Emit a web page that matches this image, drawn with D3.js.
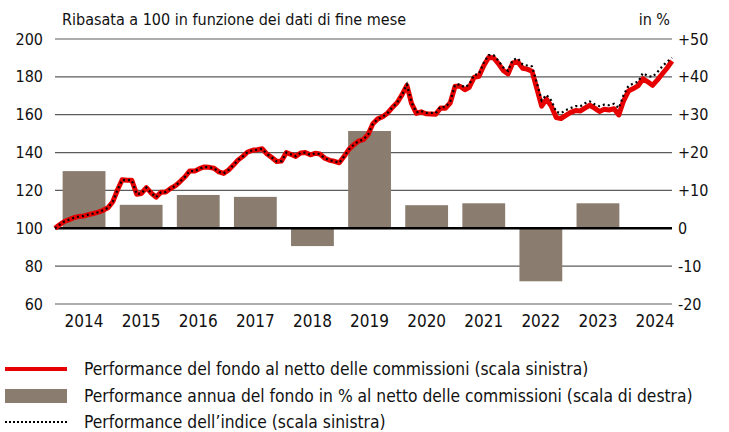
<!DOCTYPE html>
<html>
<head>
<meta charset="utf-8">
<script src="https://cdn.jsdelivr.net/npm/d3@7"></script>
<style>
  body { margin: 0; background: #fff; }
  text { font-family: "DejaVu Sans Condensed", "DejaVu Sans", sans-serif; font-stretch: condensed; fill: #111; }
</style>
</head>
<body>
<div id="container"></div>
<script>
let w = 729;
let h = 432;

// month-end values, Dec 2013 .. Aug 2024, rebased to 100
let fund = [100,102,103.6,104.6,105.6,106.2,106.5,107.2,107.8,108.5,109.5,110.8,
  114,120.5,125.6,125.4,125.4,118,118.4,121.5,118.6,116.4,119,119.2,
  121,122.5,124.7,127.2,130.3,130.2,131.5,132.4,132.2,131.7,129.8,129,
  130.8,133.4,136,138,140.3,141.2,141.5,142,139.2,137.4,135.3,135.5,
  140,139,138,139.8,140,138.8,139.6,139.2,137,135.9,135.4,134.6,
  138,141.8,144,146,146.8,149.5,155.2,157.8,158.9,160.8,163.8,166.3,
  170.5,175.5,166,160.7,161.5,160.5,160.4,160.2,163.6,163.4,166.3,175,
  175,173.2,174.5,179.8,180.3,186,190.2,190.1,187,183.4,181.6,187.4,
  188,184.5,184.1,183,174,164.5,168.3,164.5,158.5,158,159.6,161.2,
  162.2,162,163.5,165,163.5,161.7,162.9,162.5,163.2,159.9,167.5,172.5,
  173.8,175.4,179,177.4,175.5,178.4,181.5,184.7,188.4];

let index = [100,102,103.6,104.6,105.6,106.2,106.5,107.2,107.8,108.5,109.5,110.8,
  114,120.5,125.6,125.4,125.4,118,118.4,121.5,118.6,116.4,119,119.2,
  121,122.5,124.7,127.2,130.3,130.2,131.5,132.4,132.2,131.7,129.8,129,
  130.8,133.4,136,138,140.3,141.2,141.5,142,139.2,137.4,135.3,135.5,
  140,139,138,139.8,140,138.8,139.6,139.2,137,135.9,135.4,134.6,
  138,141.8,144,146,146.8,149.5,155.2,157.8,158.9,160.8,163.8,166.3,
  170.5,176,166.5,161.2,162,161,161,160.8,164.2,164,167,175.8,
  176,174.5,176,181,181.5,187.5,191.5,191.5,188.5,185,183.2,189,
  189.8,186.5,186,185.5,177,167.5,170.5,167.5,161.5,160.8,162.5,163.5,
  164.5,164.5,166,167,165.5,164.5,165.3,165,165.8,163.5,170.5,175.2,
  176.5,177.5,182,180.5,180,182.5,185.5,188,190];

// calendar year returns in %
let barYears = [2014,2015,2016,2017,2018,2019,2020,2021,2022,2023];
let barValues = [15.1,6.2,8.8,8.3,-4.7,25.7,6.1,6.6,-14.0,6.6];

let yearLabels = [2014,2015,2016,2017,2018,2019,2020,2021,2022,2023,2024];
let leftTicks = [60,80,100,120,140,160,180,200];
let rightTicks = [-20,-10,0,10,20,30,40,50];
let rightTickLabels = ["-20","-10","0","+10","+20","+30","+40","+50"];

let legendLabels = [
  "Performance del fondo al netto delle commissioni (scala sinistra)",
  "Performance annua del fondo in % al netto delle commissioni (scala di destra)",
  "Performance dell\u2019indice (scala sinistra)"
];

let red = "#e60000";
let barColor = "#8a7d6f";

let xLeft = 55, xRight = 672, yTop = 39, yBottom = 304;

let svg = d3.select("#container")
  .append("svg")
    .attr("width", w)
    .attr("height", h);

let start = new Date(2014, 0, 1);
let xScale = d3.scaleTime().domain([start, new Date(2024, 8, 1)]).range([xLeft, xRight]);
// one band per calendar year for the bars and year labels
let xYear = d3.scaleBand().domain(yearLabels)
  .range([55.5, 55.5 + 11 * 57.1])
  .paddingInner(0.25).paddingOuter(0.125);
let yLeft = d3.scaleLinear().domain([60, 200]).range([yBottom, yTop]);
let yRight = d3.scaleLinear().domain([-20, 50]).range([yBottom, yTop]);

// gridlines
svg.append("g").selectAll("line")
  .data(leftTicks.filter(d => d != 100))
  .enter().append("line")
    .attr("x1", xLeft).attr("x2", xRight)
    .attr("y1", d => yLeft(d)).attr("y2", d => yLeft(d))
    .attr("stroke", "#5c5c5c")
    .attr("stroke-width", 1.2);

// annual bars
svg.append("g").selectAll("rect")
  .data(barYears)
  .enter().append("rect")
    .attr("x", d => xYear(d))
    .attr("width", xYear.bandwidth())
    .attr("y", (d, i) => yRight(Math.max(0, barValues[i])))
    .attr("height", (d, i) => Math.abs(yRight(barValues[i]) - yRight(0)))
    .attr("fill", barColor);

// zero line
svg.append("line")
  .attr("x1", xLeft).attr("x2", xRight)
  .attr("y1", yLeft(100)).attr("y2", yLeft(100))
  .attr("stroke", "#000")
  .attr("stroke-width", 2.5);

let month = i => d3.timeMonth.offset(start, i);

let monthLine = d3.line()
  .x((d, i) => xScale(month(i)))
  .y(d => yLeft(d));

svg.append("path")
  .datum(fund)
  .attr("d", monthLine)
  .attr("fill", "none")
  .attr("stroke", red)
  .attr("stroke-width", 5)
  .attr("stroke-linejoin", "round");

svg.append("path")
  .datum(index)
  .attr("d", monthLine)
  .attr("fill", "none")
  .attr("stroke", "#000")
  .attr("stroke-width", 2.2)
  .attr("stroke-dasharray", "2,3");

// left axis
let leftAxis = svg.append("g")
  .attr("transform", "translate(" + (xLeft - 12) + ",0)")
  .call(d3.axisLeft(yLeft).tickValues(leftTicks).tickSize(0).tickPadding(0));
leftAxis.select(".domain").remove();
leftAxis.attr("font-family", null).attr("font-size", 16);

// right axis
let rightAxis = svg.append("g")
  .attr("transform", "translate(" + (xRight + 6) + ",0)")
  .call(d3.axisRight(yRight).tickValues(rightTicks).tickSize(0).tickPadding(0)
    .tickFormat((d, i) => rightTickLabels[i]));
rightAxis.select(".domain").remove();
rightAxis.attr("font-family", null).attr("font-size", 16);

// year labels
svg.append("g").selectAll("text")
  .data(yearLabels)
  .enter().append("text")
    .text(d => d)
    .attr("x", d => xYear(d) + xYear.bandwidth() / 2)
    .attr("y", 327)
    .attr("text-anchor", "middle")
    .attr("font-size", 17);

// header
svg.append("text")
  .text("Ribasata a 100 in funzione dei dati di fine mese")
  .attr("x", 62).attr("y", 25)
  .attr("font-size", 16);
svg.append("text")
  .text("in %")
  .attr("x", 670).attr("y", 25)
  .attr("text-anchor", "end")
  .attr("font-size", 16);

// legend
let legendY = [369, 396, 422];
svg.append("line")
  .attr("x1", 5).attr("x2", 67)
  .attr("y1", legendY[0]).attr("y2", legendY[0])
  .attr("stroke", red).attr("stroke-width", 4);
svg.append("rect")
  .attr("x", 5).attr("width", 62)
  .attr("y", legendY[1] - 7).attr("height", 14)
  .attr("fill", barColor);
svg.append("line")
  .attr("x1", 5).attr("x2", 67)
  .attr("y1", legendY[2]).attr("y2", legendY[2])
  .attr("stroke", "#000").attr("stroke-width", 2.2)
  .attr("stroke-dasharray", "2,2");

svg.append("g").selectAll("text")
  .data(legendLabels)
  .enter().append("text")
    .text(d => d)
    .attr("x", 84)
    .attr("y", (d, i) => legendY[i] + 6)
    .attr("font-size", 17.3);
</script>
</body>
</html>
